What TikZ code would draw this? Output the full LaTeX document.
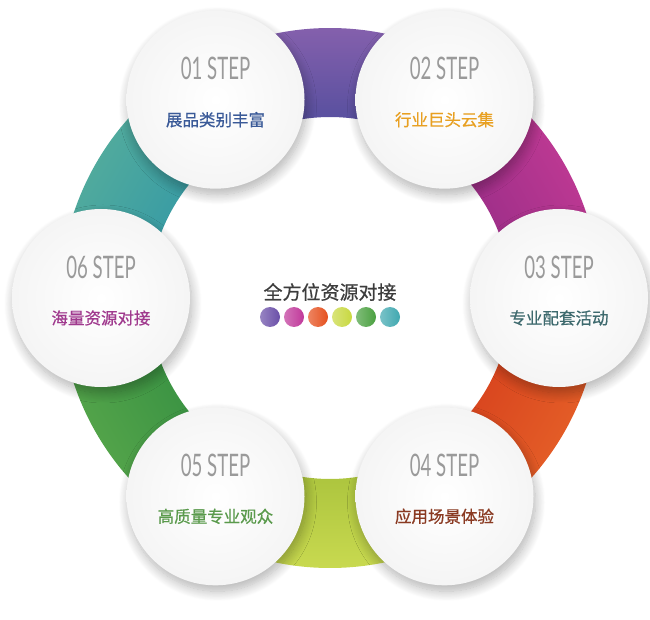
\documentclass[tikz,border=0pt]{standalone}
\usepackage{fontspec}
\setmainfont{Noto Sans CJK SC}
\newfontfamily\cjkmid[FakeBold=0.7]{Noto Sans CJK SC}
\newfontfamily\stepfont[FakeStretch=0.6]{Lato}
\usetikzlibrary{shadows.blur}

% Colores del anillo (exterior / interior)
\definecolor{ringAout}{HTML}{8A62AE}\definecolor{ringAin}{HTML}{4E4C9C}
\definecolor{ringBout}{HTML}{C83C96}\definecolor{ringBin}{HTML}{8E2A84}
\definecolor{ringCout}{HTML}{E8662A}\definecolor{ringCin}{HTML}{D2381A}
\definecolor{ringDout}{HTML}{CCDC52}\definecolor{ringDin}{HTML}{A6C03A}
\definecolor{ringEout}{HTML}{5CAA4C}\definecolor{ringEin}{HTML}{2E8A40}
\definecolor{ringFout}{HTML}{5AB09A}\definecolor{ringFin}{HTML}{2C94A8}
% Colores de los textos
\definecolor{txtA}{HTML}{3A5A98}\definecolor{txtB}{HTML}{E8A022}
\definecolor{txtC}{HTML}{3E6A6E}\definecolor{txtD}{HTML}{8A3A22}
\definecolor{txtE}{HTML}{5A9A4C}\definecolor{txtF}{HTML}{A03A8E}
\definecolor{stepgray}{HTML}{9A9A9A}\definecolor{titlegray}{HTML}{3C3C3C}
% Colores de los puntos
\definecolor{dotA}{HTML}{6A4FA8}\definecolor{dotB}{HTML}{C0389A}
\definecolor{dotC}{HTML}{E5501E}\definecolor{dotD}{HTML}{C8D840}
\definecolor{dotE}{HTML}{4AA040}\definecolor{dotF}{HTML}{40A8B0}

\begin{document}
\begin{tikzpicture}[
    x=1pt, y=1pt,
    step circle/.style={circle, minimum size=178pt, inner sep=0pt,
        inner color=white, outer color=black!4,
        blur shadow={shadow xshift=2pt, shadow yshift=-6pt, shadow blur steps=14,
            shadow blur radius=10pt, shadow opacity=30}},
    step label/.style={font=\stepfont\fontsize{31}{31}\selectfont, text=stepgray, inner sep=0pt},
    step text/.style={font=\cjkmid\fontsize{16.5}{16.5}\selectfont, inner sep=0pt},
    color dot/.style={circle, minimum size=20pt, inner sep=0pt}
]
\useasboundingbox (0,0) rectangle (650,619);

\begin{scope}[shift={(330,321)}]

    % 1. Segmentos del anillo
    \foreach \ang/\cout/\cin in {90/ringAout/ringAin, 30/ringBout/ringBin,
        -30/ringCout/ringCin, -90/ringDout/ringDin,
        -150/ringEout/ringEin, 150/ringFout/ringFin}{
        \pgfmathsetmacro{\sang}{\ang-90}
        \pgfmathsetmacro{\aini}{\ang-30}
        \pgfmathsetmacro{\afin}{\ang+30}
        \shade[top color=\cout, bottom color=\cin, shading angle=\sang]
            (\aini:181) arc[start angle=\aini, end angle=\afin, radius=181]
            -- (\afin:270) arc[start angle=\afin, end angle=\aini, radius=270] -- cycle;
    }

    % 2. Circulos de cada paso
    \foreach \i/\ang/\txt/\col in {
        1/120/展品类别丰富/txtA,
        2/60/行业巨头云集/txtB,
        3/0/专业配套活动/txtC,
        4/-60/应用场景体验/txtD,
        5/-120/高质量专业观众/txtE,
        6/180/海量资源对接/txtF}{
        \node[step circle] (s\i) at (\ang:229) {};
        \node[step label] (l\i) at ([yshift=31pt]s\i.center) {0\i{} STEP};
        \node[step text, text=\col] (t\i) at ([yshift=-20pt]s\i.center) {\txt};
    }

    % 3. Titulo central y puntos de color
    \node[font=\cjkmid\fontsize{19}{19}\selectfont, text=titlegray, inner sep=0pt] (title) at (0,6) {全方位资源对接};
    \foreach \j/\c in {0/dotA, 1/dotB, 2/dotC, 3/dotD, 4/dotE, 5/dotF}{
        \node[color dot, left color=\c!70!white, right color=\c] (d\j) at ({-60+\j*24},-19) {};
    }

\end{scope}
\end{tikzpicture}
\end{document}
